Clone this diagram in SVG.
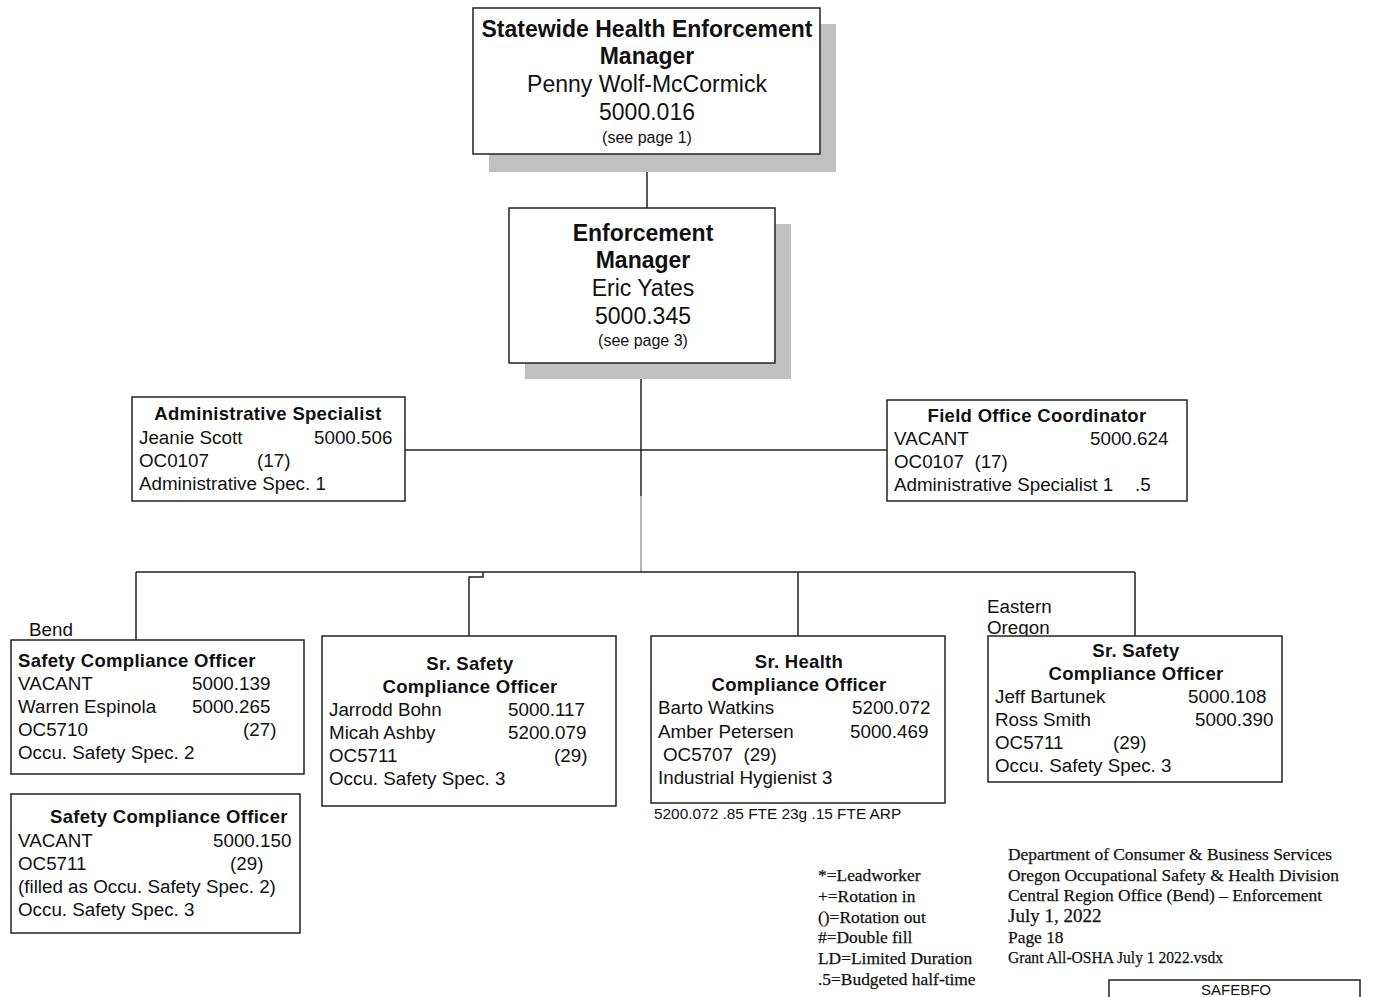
<svg xmlns="http://www.w3.org/2000/svg" width="1374" height="997" viewBox="0 0 1374 997">
<style>
.box{fill:#fff;stroke:#222;stroke-width:1.5}
.sh{fill:#c0c0c0}
.ln{fill:none;stroke:#222;stroke-width:1.5}
.t{font-family:"Liberation Sans",Arial,sans-serif;font-size:18.8px;fill:#111}
.b{font-family:"Liberation Sans",Arial,sans-serif;font-size:18.5px;font-weight:bold;fill:#111;letter-spacing:0.3px}
.c{text-anchor:middle}
.bt{font-family:"Liberation Sans",Arial,sans-serif;font-size:23px;font-weight:bold;fill:#111;text-anchor:middle}
.rt{font-family:"Liberation Sans",Arial,sans-serif;font-size:23px;fill:#111;text-anchor:middle}
.sm{font-family:"Liberation Sans",Arial,sans-serif;font-size:16px;fill:#111;text-anchor:middle}
.lg{font-family:"Liberation Serif","Times New Roman",serif;font-size:17.4px;fill:#111;stroke:#111;stroke-width:0.25}
</style>
<rect x="0" y="0" width="1374" height="997" fill="#fff"/>
<g id="connectors">
<path class="ln" d="M647 154V208"/>
<path class="ln" d="M641 363V496"/>
<path d="M641 496V572" fill="none" stroke="#999" stroke-width="1.5"/>
<path class="ln" d="M405 450H887"/>
<path class="ln" d="M136 572H1135M136 572V640M483 572V577H469V636M798 572V636M1135 572V636"/>
</g>
<g id="n-statewide">
<rect class="sh" x="489" y="24" width="347" height="148"/>
<rect class="box" x="473" y="8" width="347" height="146"/>
<text class="bt" x="647" y="37">Statewide Health Enforcement</text>
<text class="bt" x="647" y="64">Manager</text>
<text class="rt" x="647" y="92">Penny Wolf-McCormick</text>
<text class="rt" x="647" y="120">5000.016</text>
<text class="sm" x="647" y="143">(see page 1)</text>
</g>
<g id="n-enforcement">
<rect class="sh" x="525" y="224" width="266" height="155"/>
<rect class="box" x="509" y="208" width="266" height="155"/>
<text class="bt" x="643" y="241">Enforcement</text>
<text class="bt" x="643" y="268">Manager</text>
<text class="rt" x="643" y="296">Eric Yates</text>
<text class="rt" x="643" y="324">5000.345</text>
<text class="sm" x="643" y="346">(see page 3)</text>
</g>
<g id="n-admin">
<rect class="box" x="132" y="397" width="273" height="104"/>
<text class="b c" x="268" y="420">Administrative Specialist</text>
<text class="t" x="139" y="444">Jeanie Scott</text><text class="t" x="314" y="444">5000.506</text>
<text class="t" x="139" y="467">OC0107</text><text class="t" x="257" y="467">(17)</text>
<text class="t" x="139" y="490">Administrative Spec. 1</text>
</g>
<g id="n-field">
<rect class="box" x="887" y="400" width="300" height="101"/>
<text class="b c" x="1037" y="422">Field Office Coordinator</text>
<text class="t" x="894" y="445">VACANT</text><text class="t" x="1090" y="445">5000.624</text>
<text class="t" x="894" y="468" xml:space="preserve">OC0107  (17)</text>
<text class="t" x="894" y="491">Administrative Specialist 1</text><text class="t" x="1135" y="491">.5</text>
</g>
<g id="n-bend">
<text class="t" x="29" y="636">Bend</text>
<rect class="box" x="11" y="640" width="293" height="134"/>
<text class="b" x="18" y="667">Safety Compliance Officer</text>
<text class="t" x="18" y="690">VACANT</text><text class="t" x="192" y="690">5000.139</text>
<text class="t" x="18" y="713">Warren Espinola</text><text class="t" x="192" y="713">5000.265</text>
<text class="t" x="18" y="736">OC5710</text><text class="t" x="243" y="736">(27)</text>
<text class="t" x="18" y="759">Occu. Safety Spec. 2</text>
</g>
<g id="n-sco2">
<rect class="box" x="11" y="794" width="289" height="139"/>
<text class="b" x="50" y="823">Safety Compliance Officer</text>
<text class="t" x="18" y="847">VACANT</text><text class="t" x="213" y="847">5000.150</text>
<text class="t" x="18" y="870">OC5711</text><text class="t" x="230" y="870">(29)</text>
<text class="t" x="18" y="893">(filled as Occu. Safety Spec. 2)</text>
<text class="t" x="18" y="916">Occu. Safety Spec. 3</text>
</g>
<g id="n-srsafety1">
<rect class="box" x="322" y="636" width="294" height="170"/>
<text class="b c" x="470" y="670">Sr. Safety</text>
<text class="b c" x="470" y="693">Compliance Officer</text>
<text class="t" x="329" y="716">Jarrodd Bohn</text><text class="t" x="508" y="716">5000.117</text>
<text class="t" x="329" y="739">Micah Ashby</text><text class="t" x="508" y="739">5200.079</text>
<text class="t" x="329" y="762">OC5711</text><text class="t" x="554" y="762">(29)</text>
<text class="t" x="329" y="785">Occu. Safety Spec. 3</text>
</g>
<g id="n-srhealth">
<rect class="box" x="651" y="636" width="294" height="167"/>
<text class="b c" x="799" y="668">Sr. Health</text>
<text class="b c" x="799" y="691">Compliance Officer</text>
<text class="t" x="658" y="714">Barto Watkins</text><text class="t" x="852" y="714">5200.072</text>
<text class="t" x="658" y="738">Amber Petersen</text><text class="t" x="850" y="738">5000.469</text>
<text class="t" x="663" y="761" xml:space="preserve">OC5707  (29)</text>
<text class="t" x="658" y="784">Industrial Hygienist 3</text>
<text class="t" x="654" y="819" style="font-size:15.4px">5200.072 .85 FTE 23g .15 FTE ARP</text>
</g>
<g id="n-eastern">
<text class="t" x="987" y="613">Eastern</text>
<text class="t" x="987" y="634">Oregon</text>
<rect class="box" x="988" y="636" width="294" height="146"/>
<text class="b c" x="1136" y="657">Sr. Safety</text>
<text class="b c" x="1136" y="680">Compliance Officer</text>
<text class="t" x="995" y="703">Jeff Bartunek</text><text class="t" x="1188" y="703">5000.108</text>
<text class="t" x="995" y="726">Ross Smith</text><text class="t" x="1195" y="726">5000.390</text>
<text class="t" x="995" y="749">OC5711</text><text class="t" x="1113" y="749">(29)</text>
<text class="t" x="995" y="772">Occu. Safety Spec. 3</text>
</g>
<g id="legend">
<text class="lg" x="818" y="881">*=Leadworker</text>
<text class="lg" x="818" y="902">+=Rotation in</text>
<text class="lg" x="818" y="923">()=Rotation out</text>
<text class="lg" x="818" y="943">#=Double fill</text>
<text class="lg" x="818" y="964">LD=Limited Duration</text>
<text class="lg" x="818" y="985">.5=Budgeted half-time</text>
</g>
<g id="footer">
<text class="lg" x="1008" y="860">Department of Consumer &amp; Business Services</text>
<text class="lg" x="1008" y="881">Oregon Occupational Safety &amp; Health Division</text>
<text class="lg" x="1008" y="901">Central Region Office (Bend) – Enforcement</text>
<text class="lg" x="1008" y="922" style="font-size:19px">July 1, 2022</text>
<text class="lg" x="1008" y="943">Page 18</text>
<text class="lg" x="1008" y="963" textLength="215" lengthAdjust="spacingAndGlyphs">Grant All-OSHA July 1 2022.vsdx</text>
</g>
<g id="n-safebfo">
<rect class="box" x="1109" y="980" width="251" height="30"/>
<text class="sm" x="1236" y="995" style="font-size:15px">SAFEBFO</text>
</g>
</svg>
